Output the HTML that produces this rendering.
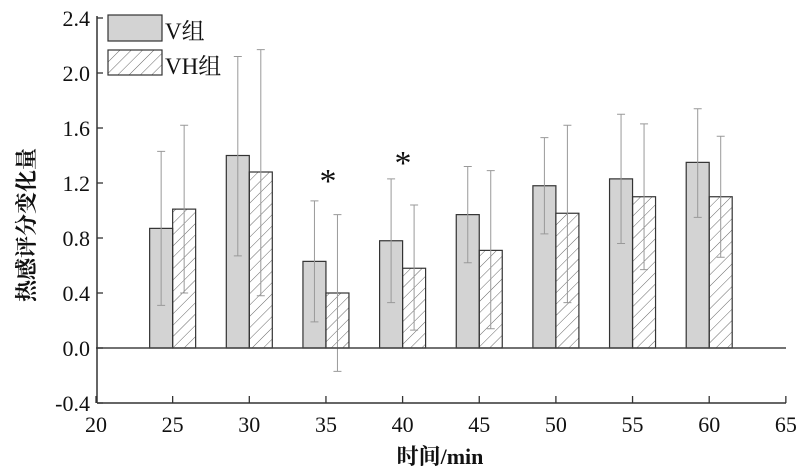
<!DOCTYPE html>
<html><head><meta charset="utf-8"><style>
body{margin:0;background:#fff}
text{font-family:"Liberation Serif","Noto Serif CJK SC",serif;fill:#111}
</style></head><body>
<svg width="800" height="470" viewBox="0 0 800 470" xmlns="http://www.w3.org/2000/svg">
<defs>
<pattern id="h" patternUnits="userSpaceOnUse" width="8" height="8" patternTransform="rotate(45)">
<line x1="0" y1="0" x2="0" y2="8" stroke="#555" stroke-width="0.9"/>
</pattern>
</defs>
<g id="bars"></g>
<line x1="96" y1="348" x2="786" y2="348" stroke="#444" stroke-width="1.5"/>
<line x1="97" y1="16" x2="97" y2="403" stroke="#333" stroke-width="1.5"/>
<line x1="97" y1="403" x2="786" y2="403" stroke="#333" stroke-width="1.5"/>
<g id="ax"></g>
<rect x="108" y="15" width="54" height="26" fill="#d3d3d3" stroke="#333" stroke-width="1.2"/>
<rect x="108" y="50" width="54" height="25" fill="url(#h)" stroke="#333" stroke-width="1.2"/>
<text x="165" y="39" font-size="23">V组</text>
<text x="165" y="74" font-size="23">VH组</text>
<text x="328" y="192" font-size="34" text-anchor="middle">*</text>
<text x="403" y="174" font-size="34" text-anchor="middle">*</text>
<text x="440" y="464" font-size="22" font-weight="bold" text-anchor="middle">时间/min</text>
<text transform="translate(34,225) rotate(-90)" font-size="22" font-weight="bold" text-anchor="middle">热感评分变化量</text>
</svg>
<script>
const X=t=>96+(t-20)*15.33, Y=v=>348-v*137.5;
const d=[[25,.87,.31,1.43,1.01,.40,1.62],[30,1.40,.67,2.12,1.28,.38,2.17],[35,.63,.19,1.07,.40,-.17,.97],[40,.78,.33,1.23,.58,.13,1.04],[45,.97,.62,1.32,.71,.14,1.29],[50,1.18,.83,1.53,.98,.33,1.62],[55,1.23,.76,1.70,1.10,.57,1.63],[60,1.35,.95,1.74,1.10,.66,1.54]];
let s='';
for(const r of d){const x=X(r[0]);
s+=`<rect x="${x-23}" y="${Y(r[1])}" width="23" height="${Y(0)-Y(r[1])}" fill="#d3d3d3" stroke="#333" stroke-width="1.2"/>`;
s+=`<rect x="${x}" y="${Y(r[4])}" width="23" height="${Y(0)-Y(r[4])}" fill="url(#h)" stroke="#333" stroke-width="1.2"/>`;
for(const [c,lo,hi] of [[x-11.5,r[2],r[3]],[x+11.5,r[5],r[6]]]){
s+=`<line x1="${c}" y1="${Y(lo)}" x2="${c}" y2="${Y(hi)}" stroke="#999" stroke-width="1"/>`;
s+=`<line x1="${c-4}" y1="${Y(lo)}" x2="${c+4}" y2="${Y(lo)}" stroke="#999"/><line x1="${c-4}" y1="${Y(hi)}" x2="${c+4}" y2="${Y(hi)}" stroke="#999"/>`;}}
document.getElementById('bars').innerHTML=s;
let a='';
for(let v=-0.4;v<2.41;v+=0.4){const y=Y(v);a+=`<line x1="97" y1="${y}" x2="103" y2="${y}" stroke="#333" stroke-width="1.3"/><text x="90" y="${y+8}" font-size="22" text-anchor="end">${(Math.abs(v)<1e-9?0:v).toFixed(1)}</text>`;}
for(let t=20;t<=65;t+=5){const x=X(t);a+=`<line x1="${x}" y1="403" x2="${x}" y2="396" stroke="#333" stroke-width="1.3"/><text x="${x}" y="432" font-size="22" text-anchor="middle">${t}</text>`;}
document.getElementById('ax').innerHTML=a;
</script>
</body></html>
